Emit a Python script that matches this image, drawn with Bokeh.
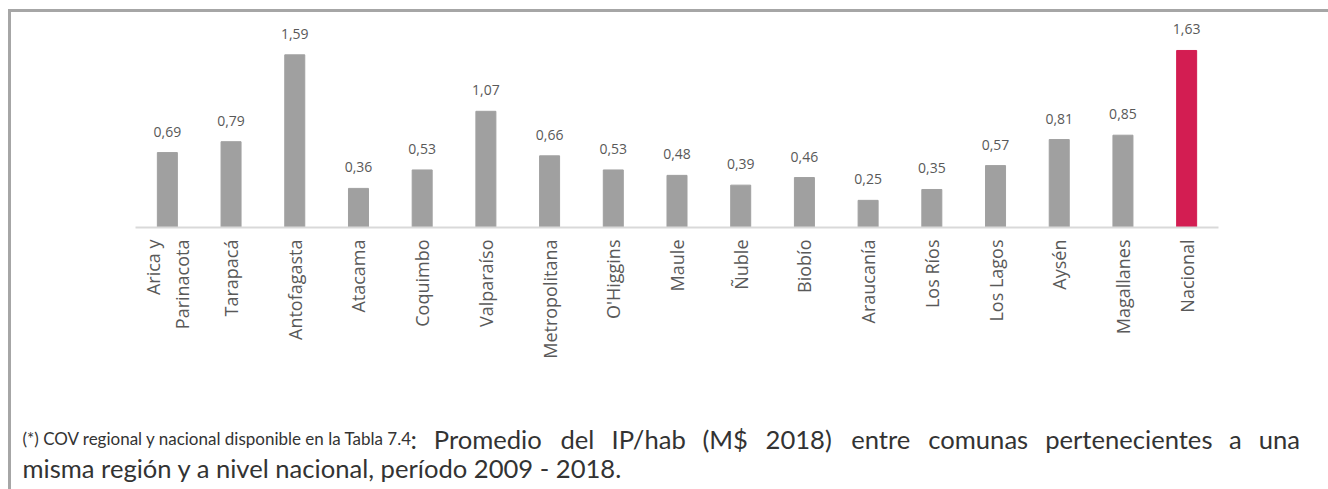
from bokeh.plotting import figure
from bokeh.models import Range1d, ColumnDataSource, FixedTicker
from bokeh.layouts import column
from bokeh.core.properties import value
from bokeh.embed import file_html
from bokeh.resources import INLINE

regions = ["Arica y\nParinacota", "Tarapacá", "Antofagasta", "Atacama", "Coquimbo",
           "Valparaíso", "Metropolitana", "O'Higgins", "Maule", "Ñuble", "Biobío",
           "Araucanía", "Los Ríos", "Los Lagos", "Aysén", "Magallanes", "Nacional"]
values = [0.69, 0.79, 1.59, 0.36, 0.53, 1.07, 0.66, 0.53, 0.48, 0.39, 0.46,
          0.25, 0.35, 0.57, 0.81, 0.85, 1.63]
value_labels = [f"{v:.2f}".replace(".", ",") for v in values]
bar_colors = ["#a0a0a0"] * 16 + ["#d31d52"]

footnote_small = "(*) COV regional y nacional disponible en la Tabla 7.4"
footnote_big_1 = ": Promedio del IP/hab (M$ 2018) entre comunas pertenecientes a una"
footnote_big_2 = "misma región y a nivel nacional, período 2009 - 2018."

n = len(regions)
idx = list(range(n))
src = ColumnDataSource(dict(x=idx, top=values, lab=value_labels, color=bar_colors))

W = 1317
band_left, band_width = 124, 1083
step = band_width / n
x_start = -(band_left + 0.5 * step) / step
x_end = x_start + W / step

p = figure(x_range=Range1d(x_start, x_end), y_range=Range1d(0, 1.9245),
           width=W, height=388, output_backend="svg", toolbar_location=None,
           y_axis_location=None, min_border_left=0, min_border_right=0,
           min_border_top=6, min_border_bottom=173)
p.outline_line_color = None
p.grid.visible = False
p.background_fill_color = "white"
p.border_fill_color = "white"

p.vbar(x="x", top="top", width=0.314, color="color", source=src)
p.text(x="x", y="top", text="lab", source=src, y_offset=-21,
       text_align="center", text_baseline="alphabetic",
       text_font_size="14px", text_color="#595959", text_font=value("Open Sans"))

ax = p.xaxis[0]
ax.ticker = FixedTicker(ticks=idx)
ax.major_label_overrides = {i: r for i, r in zip(idx, regions)}
ax.bounds = (-0.5, n - 0.5)
ax.axis_line_color = "#d9d9d9"
ax.axis_line_width = 2
ax.major_tick_line_color = None
ax.minor_tick_line_color = None
ax.major_tick_out = 0
ax.major_tick_in = 0
ax.major_label_standoff = 12
ax.major_label_orientation = 1.5707963
ax.major_label_text_font = "Open Sans"
ax.major_label_text_font_size = "18px"
ax.major_label_text_color = "#595959"

# ---- footnote panel (justified first line, as in the source document) ----
p2 = figure(x_range=Range1d(0, W), y_range=Range1d(89, 0), width=W, height=89,
            output_backend="svg", toolbar_location=None, x_axis_location=None,
            y_axis_location=None, min_border=0)
p2.outline_line_color = None
p2.grid.visible = False
p2.background_fill_color = "white"
p2.border_fill_color = "white"

BIG = 25.6
# approximate Lato advance widths (em) used to spread the words of the justified line
CW = {":": .24, "P": .60, "r": .37, "o": .54, "m": .83, "e": .51, "d": .55, "i": .24,
      "l": .24, "I": .27, "/": .36, "h": .55, "a": .49, "b": .55, "(": .30, "M": .88,
      "$": .58, ")": .30, "n": .55, "t": .35, "c": .45, "u": .55, "s": .40, "p": .55}
for dgt in "0123456789":
    CW[dgt] = .58

def est_width(s, size):
    return sum(CW.get(c, 0.5) for c in s) * size * 1.0245

words = footnote_big_1.split(" ")
line_left, line_right = 399, 1289
widths = [est_width(w, BIG) for w in words]
gap = (line_right - line_left - sum(widths)) / (len(words) - 1)
xs = []
cur = line_left
for w in widths:
    xs.append(cur)
    cur += w + gap

p2.text(x=[11], y=[38], text=[footnote_small], text_font=value("Lato"),
        text_font_size="17px", text_color="#333333", text_baseline="alphabetic")
p2.text(x=xs, y=[38] * len(words), text=words, text_font=value("Lato"),
        text_font_size=f"{BIG}px", text_color="#333333", text_baseline="alphabetic")
p2.text(x=[11], y=[67], text=[footnote_big_2], text_font=value("Lato"),
        text_font_size=f"{BIG}px", text_color="#333333", text_baseline="alphabetic")

layout = column(p, p2, spacing=0)
layout.styles = {"margin-left": "8px", "margin-top": "9px",
                 "border-left": "3px solid #a6a6a6", "border-top": "3px solid #a6a6a6"}

open("out.html", "w").write(file_html(layout, INLINE))
